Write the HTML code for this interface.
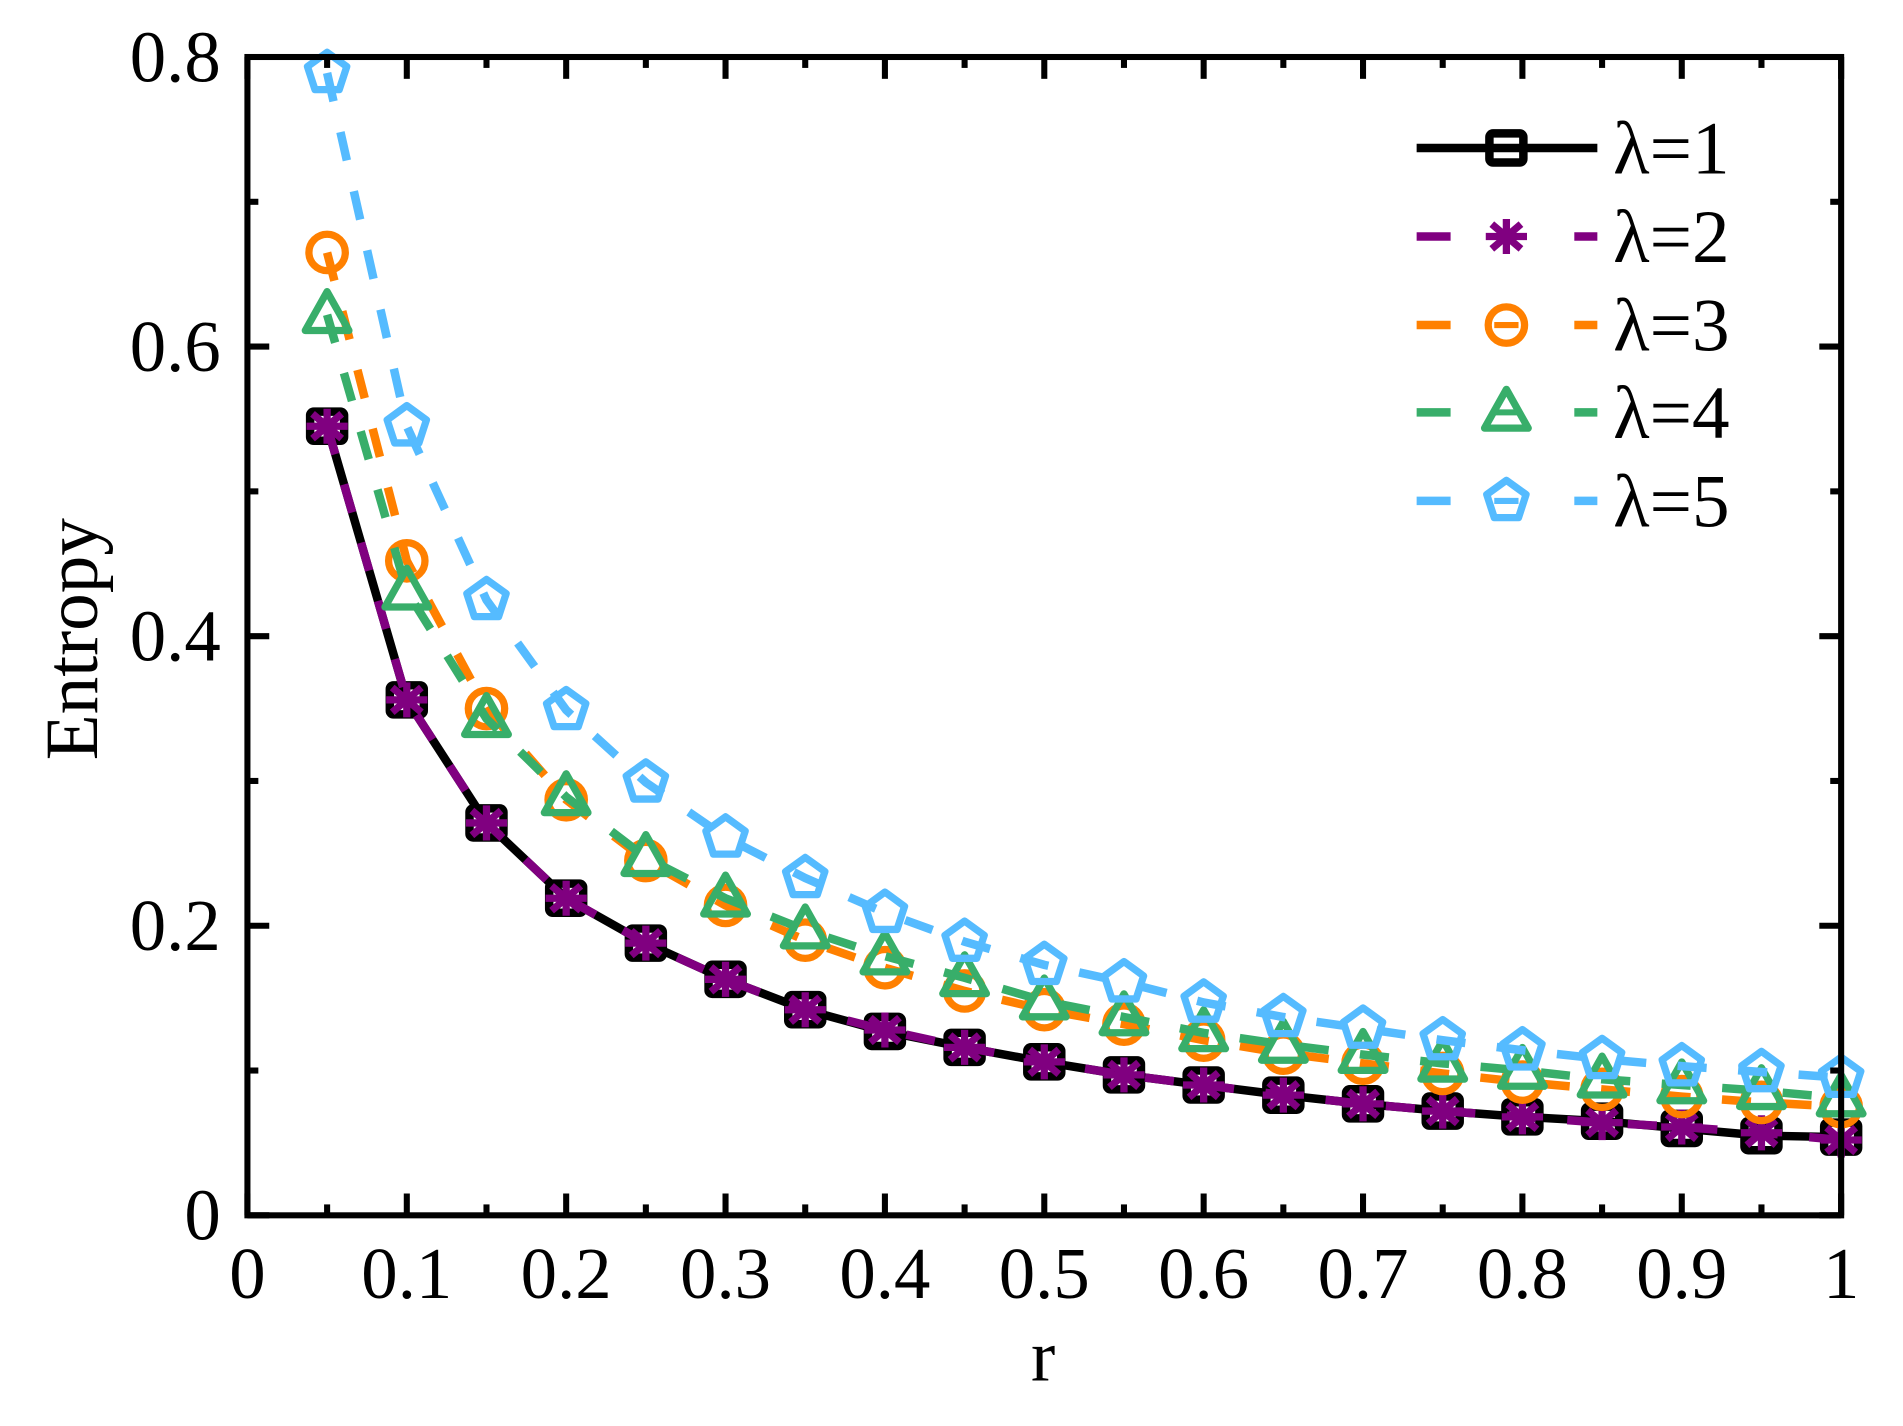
<!DOCTYPE html>
<html><head><meta charset="utf-8"><style>
html,body{margin:0;padding:0;background:#fff;}
svg{display:block;}
text{font-family:"Liberation Serif","Times New Roman",Times,serif;fill:#000;}
</style></head><body>
<svg id="c" width="1903" height="1426" viewBox="0 0 1569 1175.7" preserveAspectRatio="none" xmlns="http://www.w3.org/2000/svg"></svg>
<script>
const svg=document.getElementById('c');
const L=204,R=1518,T=47,B=1002;
const X=v=>L+(R-L)*v, Y=v=>B-(B-T)*v/0.8;
let s='';
const xs=[];for(let i=1;i<=20;i++)xs.push(i*0.05);
const D={
1:[0.545,0.356,0.271,0.219,0.188,0.163,0.142,0.127,0.116,0.106,0.097,0.090,0.083,0.077,0.072,0.068,0.065,0.060,0.055,0.054],
2:[0.545,0.356,0.271,0.219,0.188,0.163,0.142,0.128,0.116,0.106,0.097,0.090,0.083,0.077,0.072,0.068,0.064,0.061,0.057,0.052],
3:[0.665,0.452,0.350,0.287,0.245,0.214,0.190,0.171,0.155,0.142,0.132,0.121,0.112,0.105,0.098,0.092,0.087,0.082,0.078,0.075],
4:[0.622,0.431,0.343,0.289,0.247,0.219,0.197,0.179,0.164,0.148,0.137,0.126,0.118,0.111,0.105,0.100,0.094,0.090,0.086,0.081],
5:[0.789,0.545,0.425,0.349,0.299,0.261,0.233,0.209,0.189,0.173,0.161,0.147,0.137,0.129,0.121,0.114,0.108,0.103,0.099,0.095]};
const C={1:'#000',2:'#800080',3:'#ff8000',4:'#38ae6a',5:'#55bbff'};
function marker(k,x,y){
 const c=C[k],r=17,w=6;let m='';
 if(k==1){m+=`<rect x="${x-14}" y="${y-12}" width="28" height="24" rx="3" fill="none" stroke="${c}" stroke-width="${w+1}"/>`;}
 else if(k==2){for(const a of [0,45,90,135]){const t=a*Math.PI/180,dx=r*Math.cos(t),dy=r*Math.sin(t)*0.85;m+=`<line x1="${x-dx}" y1="${y-dy}" x2="${x+dx}" y2="${y+dy}" stroke="${c}" stroke-width="${w}"/>`;}}
 else if(k==3){m+=`<circle cx="${x}" cy="${y}" r="${r-2}" fill="none" stroke="${c}" stroke-width="${w}"/>`;}
 else if(k==4){m+=`<polygon points="${x},${y-r-2} ${x+r+1},${y+r-4} ${x-r-1},${y+r-4}" fill="none" stroke="${c}" stroke-width="${w}" stroke-linejoin="round"/>`;}
 else {let p=[];for(let i=0;i<5;i++){const t=(-90+72*i)*Math.PI/180;p.push((x+r*Math.cos(t)).toFixed(1)+','+(y+r*Math.sin(t)).toFixed(1));}
  m+=`<polygon points="${p.join(' ')}" fill="none" stroke="${c}" stroke-width="${w}" stroke-linejoin="round"/>`;}
 return m;
}
for(const k of [1,2,3,4,5]){
 const pts=xs.map((x,i)=>X(x).toFixed(1)+','+Y(D[k][i]).toFixed(1)).join(' ');
 s+=`<polyline points="${pts}" fill="none" stroke="${C[k]}" stroke-width="7" ${k>1?'stroke-dasharray="24 26"':''}/>`;
 xs.forEach((x,i)=>{s+=marker(k,X(x),Y(D[k][i]));});
}
s+=`<rect x="${L}" y="${T}" width="${R-L}" height="${B-T}" fill="none" stroke="#000" stroke-width="5"/>`;
for(let i=0;i<=20;i++){const x=X(i*0.05),l=i%2==0?18:9;
 s+=`<line x1="${x}" y1="${B}" x2="${x}" y2="${B-l}" stroke="#000" stroke-width="5"/><line x1="${x}" y1="${T}" x2="${x}" y2="${T+l}" stroke="#000" stroke-width="5"/>`;
 if(i%2==0){const v=i/20;const t=v==0?'0':v==1?'1':v.toFixed(1);s+=`<text x="${x}" y="1070" font-size="60" text-anchor="middle">${t}</text>`;}}
for(let i=0;i<=8;i++){const y=Y(i*0.1),l=i%2==0?18:9;
 s+=`<line x1="${L}" y1="${y}" x2="${L+l}" y2="${y}" stroke="#000" stroke-width="5"/><line x1="${R}" y1="${y}" x2="${R-l}" y2="${y}" stroke="#000" stroke-width="5"/>`;
 if(i%2==0){const v=i/10;const t=v==0?'0':v.toFixed(1);s+=`<text x="182" y="${y+20}" font-size="60" text-anchor="end">${t}</text>`;}}
s+=`<text x="860" y="1138" font-size="60" text-anchor="middle">r</text>`;
s+=`<text transform="translate(80,527) rotate(-90)" font-size="62" text-anchor="middle">Entropy</text>`;
const ly=[122,195,268,340,413];
for(const k of [1,2,3,4,5]){const y=ly[k-1];
 if(k==1)s+=`<line x1="1168" y1="${y}" x2="1317" y2="${y}" stroke="#000" stroke-width="7"/>`;
 else s+=`<line x1="1168" y1="${y}" x2="1196" y2="${y}" stroke="${C[k]}" stroke-width="7"/><line x1="1298" y1="${y}" x2="1317" y2="${y}" stroke="${C[k]}" stroke-width="7"/><line x1="1232" y1="${y}" x2="1252" y2="${y}" stroke="${C[k]}" stroke-width="5"/>`;
 s+=marker(k,1242,y);
 s+=`<text x="1330" y="${y+21}" font-size="62">λ=${k}</text>`;}
svg.innerHTML=s;
</script>
</body></html>
